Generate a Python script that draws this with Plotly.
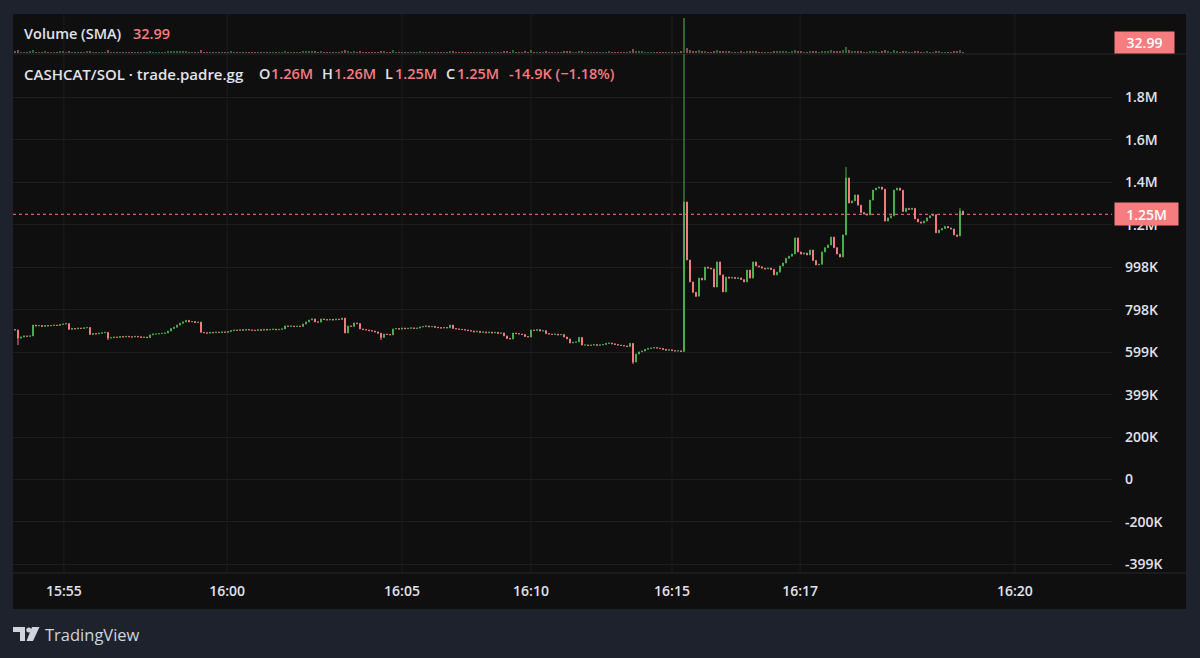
import plotly.graph_objects as go

W, H = 1200, 658

# ---------------- data (prices in thousands) ----------------
closes_k = [
    703, 665, 670, 675, 673, 675, 726, 722, 724, 720, 724, 722, 724, 726, 724, 729, 731, 733, 706, 710,
    708, 712, 710, 713, 715, 682, 686, 684, 688, 690, 692, 665, 667, 670, 668, 672, 670, 673, 671, 670,
    673, 671, 668, 670, 667, 680, 684, 684, 686, 687, 689, 698, 710, 716, 726, 735, 741, 748, 741, 743,
    738, 740, 692, 690, 688, 692, 690, 693, 691, 694, 692, 696, 700, 703, 701, 704, 702, 705, 703, 702,
    701, 704, 702, 706, 703, 705, 707, 704, 706, 708, 722, 720, 722, 719, 721, 720, 731, 741, 750, 755,
    741, 740, 755, 752, 750, 753, 750, 754, 752, 759, 689, 722, 720, 736, 733, 708, 705, 703, 700, 698,
    694, 688, 668, 684, 682, 680, 708, 710, 707, 712, 709, 711, 713, 710, 712, 717, 719, 722, 718, 720,
    716, 714, 712, 715, 713, 726, 710, 708, 706, 705, 703, 700, 698, 694, 697, 692, 694, 690, 693, 689,
    692, 687, 689, 675, 663, 661, 689, 686, 684, 682, 672, 670, 703, 701, 705, 698, 700, 686, 684, 682,
    684, 680, 682, 670, 661, 642, 645, 647, 668, 632, 633, 630, 632, 634, 631, 633, 635, 640, 642, 638,
    635, 632, 630, 628, 625, 640, 552, 590, 600, 604, 612, 616, 618, 620, 618, 616, 612, 608, 610, 606,
    604, 605, 602, 1305, 1032, 929, 880, 862, 947, 938, 999, 994, 990, 905, 1023, 962, 882, 952, 947, 950,
    945, 948, 940, 929, 985, 947, 1023, 1004, 1000, 994, 990, 994, 988, 962, 975, 1004, 1018, 1040, 1050, 1060,
    1136, 1070, 1060, 1065, 1056, 1079, 1030, 1009, 1012, 1070, 1090, 1103, 1140, 1090, 1060, 1046, 1150, 1418, 1300, 1310,
    1338, 1290, 1255, 1248, 1244, 1314, 1361, 1370, 1375, 1365, 1215, 1230, 1240, 1361, 1370, 1360, 1260, 1275, 1270, 1275,
    1225, 1211, 1206, 1215, 1230, 1240, 1245, 1160, 1173, 1180, 1190, 1183, 1178, 1150, 1145, 1262, 1247,
]
first_open_k = 705
high_overrides_k = {205: 642, 223: 2200, 277: 1469, 315: 1277, 316: 1262}
low_overrides_k = {1: 632, 31: 656, 122: 656, 206: 543, 227: 858, 314: 1140, 316: 1247}

volumes = [
    60, 85, 40, 35, 30, 45, 90, 40, 35, 30, 45, 35, 30, 40, 35, 50, 45, 40, 70, 35,
    30, 40, 35, 30, 45, 65, 40, 30, 35, 40, 35, 75, 30, 35, 30, 40, 30, 35, 30, 30,
    35, 30, 40, 30, 35, 45, 40, 35, 30, 40, 35, 50, 60, 45, 55, 50, 45, 60, 40, 35,
    30, 35, 80, 35, 30, 40, 30, 35, 30, 40, 35, 30, 45, 40, 35, 30, 40, 35, 30, 35,
    30, 35, 40, 30, 35, 30, 40, 35, 30, 35, 70, 40, 35, 30, 40, 35, 55, 50, 60, 55,
    45, 35, 65, 40, 35, 40, 35, 30, 40, 45, 95, 60, 35, 50, 40, 60, 35, 30, 40, 35,
    40, 35, 70, 45, 35, 30, 75, 35, 30, 40, 35, 30, 40, 35, 30, 45, 40, 35, 30, 40,
    35, 30, 40, 35, 30, 65, 50, 35, 30, 40, 35, 30, 40, 35, 30, 35, 40, 30, 35, 30,
    35, 40, 30, 45, 50, 35, 75, 35, 30, 40, 45, 35, 80, 35, 40, 30, 35, 45, 35, 30,
    35, 40, 30, 50, 55, 70, 35, 30, 65, 60, 35, 30, 35, 40, 30, 35, 30, 40, 45, 35,
    30, 35, 30, 40, 35, 55, 110, 70, 60, 45, 40, 35, 30, 40, 35, 30, 40, 35, 30, 35,
    40, 35, 45, 1000, 130, 85, 70, 60, 75, 45, 70, 40, 35, 60, 80, 55, 65, 70, 45, 40,
    35, 40, 45, 40, 55, 50, 70, 45, 40, 35, 40, 35, 40, 50, 45, 55, 50, 45, 40, 50,
    85, 60, 45, 40, 35, 55, 60, 45, 40, 65, 55, 50, 75, 55, 50, 45, 90, 165, 80, 50,
    55, 60, 50, 40, 35, 70, 65, 45, 40, 45, 80, 45, 40, 75, 45, 40, 70, 45, 40, 35,
    55, 45, 40, 35, 45, 40, 35, 70, 45, 40, 35, 40, 35, 50, 45, 90, 40,
]

time_tick_labels = ["15:55", "16:00", "16:05", "16:10", "16:15", "16:17", "16:20"]
time_tick_pos = [16.3, 70.7, 129.0, 172.0, 219.0, 261.7, 333.3]

price_tick_values = [-399200, -199600, 0, 199600, 399200, 598800, 798400, 998000,
                     1197600, 1397200, 1596800, 1796400]
price_tick_labels = ["-399K", "-200K", "0", "200K", "399K", "599K", "798K", "998K",
                     "1.2M", "1.4M", "1.6M", "1.8M"]

volume_sma_text = "32.99"
last_price_text = "1.25M"
symbol_text = "CASHCAT/SOL · trade.padre.gg"
ohlc_header = [("O", "1.26M"), ("H", "1.26M"), ("L", "1.25M"), ("C", "1.25M")]
change_text = "-14.9K (−1.18%)"

# ---------------- build OHLC table ----------------
n = len(closes_k)
idx = list(range(n))
opens_k = [first_open_k] + closes_k[:-1]
highs_k = [high_overrides_k.get(i, max(opens_k[i], closes_k[i])) for i in idx]
lows_k = [low_overrides_k.get(i, min(opens_k[i], closes_k[i])) for i in idx]
o = [v * 1000 for v in opens_k]
h = [v * 1000 for v in highs_k]
l = [v * 1000 for v in lows_k]
c = [v * 1000 for v in closes_k]

UP = "#4caf50"
DOWN = "#f77c80"
vol_colors = ["rgba(76,175,80,0.55)" if c[i] >= o[i] else "rgba(247,124,128,0.55)" for i in idx]

def px(x):
    return x / W

def py(y):
    return 1 - y / H

FONT = "'Open Sans', Roboto, sans-serif"
TXT = "#e1e3ea"
WGT = 600

fig = go.Figure()
fig.add_trace(go.Candlestick(
    x=idx, open=o, high=h, low=l, close=c,
    increasing=dict(line=dict(color=UP, width=1), fillcolor=UP),
    decreasing=dict(line=dict(color=DOWN, width=1), fillcolor=DOWN),
    whiskerwidth=0, xaxis="x", yaxis="y", showlegend=False, hoverinfo="skip",
))
fig.add_trace(go.Bar(
    x=idx, y=volumes, marker=dict(color=vol_colors, line=dict(width=0)),
    width=0.6, xaxis="x", yaxis="y2", showlegend=False, hoverinfo="skip",
))

shapes = []
# chart panel
shapes.append(dict(type="rect", xref="paper", yref="paper", x0=px(13), x1=px(1186),
                   y0=py(609), y1=py(14), fillcolor="#0f0f0f", line=dict(width=0), layer="below"))
# vertical grid lines
for t in time_tick_pos:
    shapes.append(dict(type="line", xref="x", yref="paper", x0=t, x1=t, y0=py(573), y1=py(14),
                       line=dict(color="#1c1d21", width=1), layer="below"))
# pane separators
for yy in (54, 573):
    shapes.append(dict(type="line", xref="paper", yref="paper", x0=px(13), x1=px(1186),
                       y0=py(yy), y1=py(yy), line=dict(color="#26282d", width=1), layer="below"))
# last price dotted line
shapes.append(dict(type="line", xref="paper", yref="y", x0=px(13), x1=px(1112),
                   y0=c[-1], y1=c[-1], line=dict(color="#f77c80", width=1, dash="dot")))

# TradingView logo
def path_px(points):
    s = "M" + " L".join(f"{px(x):.5f},{py(y):.5f}" for x, y in points) + " Z"
    return s

LOGO = "#d1d4dc"
shapes.append(dict(type="path", xref="paper", yref="paper",
                   path=path_px([(13, 627), (25, 627), (25, 641), (20, 641), (20, 632), (13, 632)]),
                   fillcolor=LOGO, line=dict(width=0)))
shapes.append(dict(type="circle", xref="paper", yref="paper", x0=px(26.3), x1=px(31.3),
                   y0=py(632.5), y1=py(627.5), fillcolor=LOGO, line=dict(width=0)))
shapes.append(dict(type="path", xref="paper", yref="paper",
                   path=path_px([(32, 627), (39.5, 627), (33, 641), (26.5, 641)]),
                   fillcolor=LOGO, line=dict(width=0)))

annotations = []

def label(x, y, text, color=TXT, size=14.5, anchor="left", weight=WGT, **kw):
    annotations.append(dict(xref="paper", yref="paper", x=px(x), y=py(y), text=text,
                            showarrow=False, xanchor=anchor, yanchor="middle",
                            font=dict(family=FONT, size=size, color=color, weight=weight), **kw))

label(22, 33, "Volume (SMA)")
label(131, 33, volume_sma_text, color=DOWN)
label(22, 74, symbol_text, size=15)
hx = [(257, 269), (320, 332), (383, 393), (444, 455)]
for (k, v), (xk, xv) in zip(ohlc_header, hx):
    label(xk, 74, k)
    label(xv, 74, v, color=DOWN)
label(507, 74, change_text, color=DOWN)

# axis value boxes
annotations.append(dict(xref="paper", yref="paper", x=px(1114), y=py(42.5), text=volume_sma_text,
                        showarrow=False, xanchor="left", yanchor="middle", width=57, height=19,
                        bgcolor="#f77c80",
                        font=dict(family=FONT, size=14, color="#ffffff", weight=WGT)))
annotations.append(dict(xref="paper", yref="y", x=px(1114), y=c[-1], text=last_price_text,
                        showarrow=False, xanchor="left", yanchor="middle", width=61, height=20,
                        bgcolor="#f77c80",
                        font=dict(family=FONT, size=14, color="#ffffff", weight=WGT)))

label(43, 634, "TradingView", color=LOGO, size=16.5, weight=500)

fig.update_layout(
    width=W, height=H, margin=dict(l=0, r=0, t=0, b=0),
    paper_bgcolor="#1e222d", plot_bgcolor="rgba(0,0,0,0)",
    showlegend=False, hovermode=False, boxgap=0.55, bargap=0,
    font=dict(family=FONT, color=TXT, size=14),
    xaxis=dict(domain=[px(13), px(1112)], range=[-2 / 3, 365.67], anchor="y",
               tickmode="array", tickvals=time_tick_pos, ticktext=time_tick_labels,
               showgrid=False, zeroline=False, showline=False, ticks="",
               tickfont=dict(family=FONT, size=14, color=TXT, weight=WGT), ticklabelstandoff=8,
               rangeslider=dict(visible=False), fixedrange=True),
    yaxis=dict(domain=[py(573), py(54)], range=[-439600, 2000700], anchor="x", side="right",
               tickmode="array", tickvals=price_tick_values, ticktext=price_tick_labels,
               showgrid=True, gridcolor="#1c1d21", gridwidth=1, zeroline=False, showline=False,
               ticks="", tickfont=dict(family=FONT, size=14, color=TXT, weight=WGT),
               ticklabelstandoff=12, fixedrange=True),
    yaxis2=dict(domain=[py(53), py(14)], range=[0, 1110], anchor="x", visible=False,
                fixedrange=True),
    shapes=shapes, annotations=annotations,
)

fig.write_html("out.html", config={"displayModeBar": False})
